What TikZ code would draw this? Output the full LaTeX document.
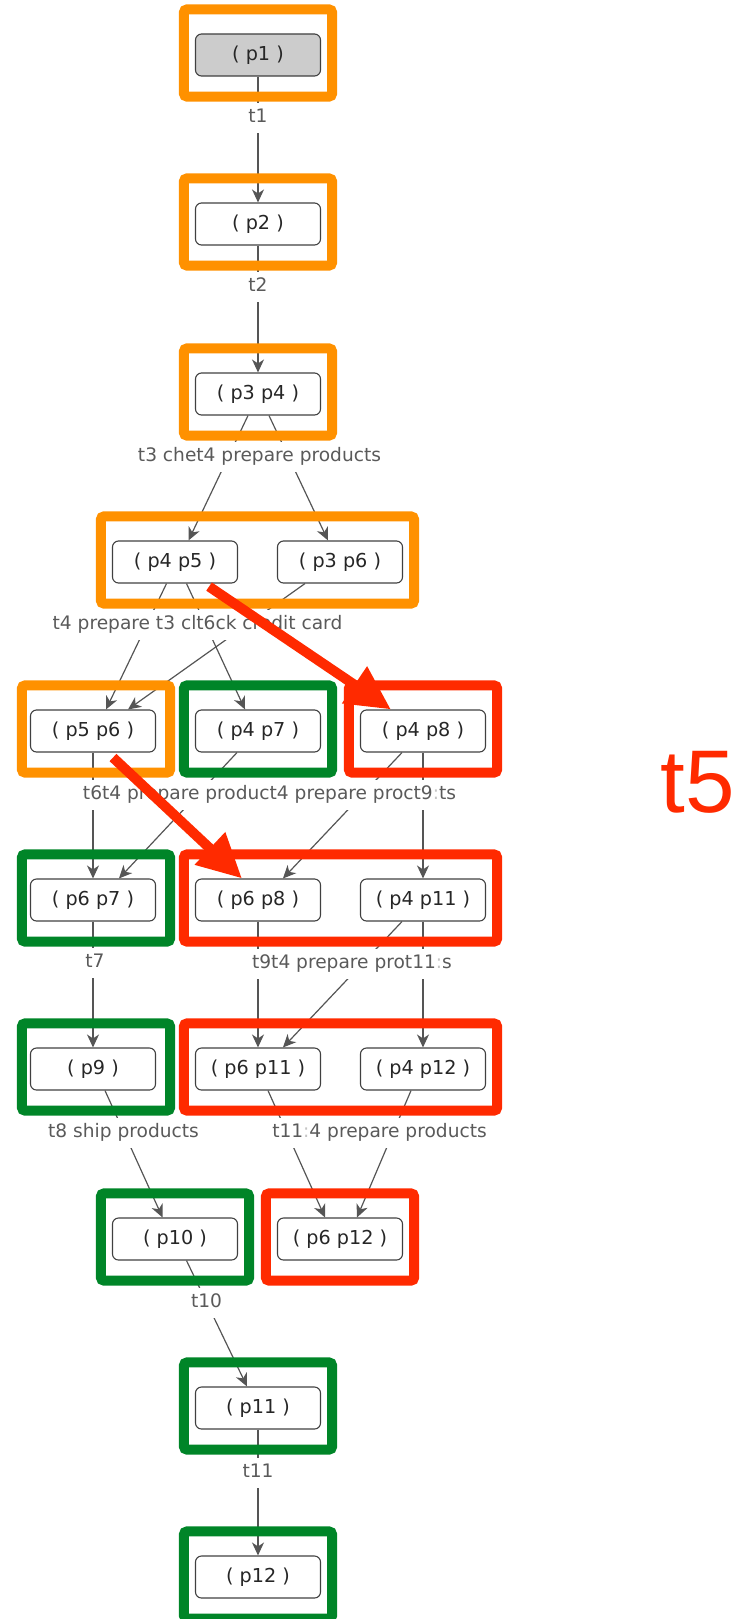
\documentclass[tikz,border=0pt]{standalone}
\usepackage{fontspec}
\setmainfont{DejaVu Sans}
\newfontfamily\bigfont{Liberation Sans}
\usetikzlibrary{arrows.meta,fit}
\definecolor{hlorange}{RGB}{255,145,0}
\definecolor{hlgreen}{RGB}{0,133,40}
\definecolor{hlred}{RGB}{255,42,0}
\definecolor{edgegray}{RGB}{85,85,85}
\definecolor{labelgray}{RGB}{90,90,90}
\newcommand{\faint}[1]{\textcolor{labelgray!35}{#1}}
\tikzset{state/.style={draw=black!75,rounded corners=6,line width=1.1pt,minimum width=125pt,minimum height=42pt,inner sep=0pt,font=\fontsize{19.2}{22}\selectfont,text=black!85}}
\tikzset{arc/.style={draw=edgegray,line width=1.2pt,-{Stealth[length=13,width=12,inset=4]}}}
\tikzset{trans/.style={fill=white,inner xsep=3pt,inner ysep=6pt,text height=14pt,text depth=4.5pt,text=labelgray,font=\fontsize{18.6}{22}\selectfont}}
\tikzset{hl/.style={draw=#1,line width=10pt,rounded corners=3,inner xsep=11pt,inner ysep=22pt,yshift=2pt}}
\tikzset{fire/.style={draw=hlred,line width=10pt,-{Triangle[length=44,width=42]}}}

\begin{document}
\begin{tikzpicture}[x=1pt,y=-1pt]
\useasboundingbox (0,0) rectangle (738,1619);
% markings
\node[state,fill=black!20] (p1) at (258,55) {( p1 )};
\node[state] (p2) at (258,224) {( p2 )};
\node[state] (p34) at (258,394) {( p3 p4 )};
\node[state] (p45) at (175,562) {( p4 p5 )};\node[state] (p36) at (340,562) {( p3 p6 )};
\node[state] (p56) at (93,731) {( p5 p6 )};\node[state] (p47) at (258,731) {( p4 p7 )};\node[state] (p48) at (423,731) {( p4 p8 )};
\node[state] (p67) at (93,900) {( p6 p7 )};\node[state] (p68) at (258,900) {( p6 p8 )};\node[state] (p411) at (423,900) {( p4 p11 )};
\node[state] (p9) at (93,1069) {( p9 )};\node[state] (p611) at (258,1069) {( p6 p11 )};\node[state] (p412) at (423,1069) {( p4 p12 )};
\node[state] (p10) at (175,1239) {( p10 )};\node[state] (p612) at (340,1239) {( p6 p12 )};
\node[state] (p11) at (258,1408) {( p11 )};
\node[state] (p12) at (258,1577) {( p12 )};
% arcs
\draw[arc](p1)--(p2);\draw[arc](p2)--(p34);
\draw[arc]([xshift=-10pt]p34.south)--([xshift=13.5pt]p45.north);\draw[arc]([xshift=11pt]p34.south)--([xshift=-12pt]p36.north);
\draw[arc]([xshift=-8.5pt]p45.south)--([xshift=13pt]p56.north);\draw[arc]([xshift=11.5pt]p45.south)--([xshift=-13pt]p47.north);
\draw[arc]([xshift=-35pt]p36.south)--([xshift=35pt]p56.north);
\draw[arc](p56)--(p67);\draw[arc]([xshift=-21pt]p47.south)--([xshift=26pt]p67.north);
\draw[arc]([xshift=-21pt]p48.south)--([xshift=25pt]p68.north);\draw[arc](p48)--(p411);
\draw[arc](p67)--(p9);\draw[arc](p68)--(p611);
\draw[arc]([xshift=-21pt]p411.south)--([xshift=25pt]p611.north);\draw[arc](p411)--(p412);
\draw[arc]([xshift=12pt]p9.south)--([xshift=-12.5pt]p10.north);
\draw[arc]([xshift=10pt]p611.south)--([xshift=-15pt]p612.north);\draw[arc]([xshift=-12pt]p412.south)--([xshift=17pt]p612.north);
\draw[arc]([xshift=11.5pt]p10.south)--([xshift=-11pt]p11.north);
\draw[arc](p11)--(p12);
% transition labels
\node[trans] (l1) at (258,118) {t1};
\node[trans] (l2) at (258,287) {t2};
\node[trans] (l3) at (259.5,457) {t3 chet4 prepare products};
\node[trans] (l4) at (197.5,625) {t4 prepare t3 clt6ck credit card};
\node[trans] (l5) at (269.5,795) {t6t4 prepare product4 prepare proct9\faint{:}ts};
\node[trans] (l6a) at (95,963) {t7};\node[trans] (l6b) at (352,964) {t9t4 prepare prot11\faint{:}s};
\node[trans] (l7a) at (123.5,1133) {t8 ship products};\node[trans] (l7b) at (379.5,1133) {t11\faint{:}4 prepare products};
\node[trans] (l8) at (206.5,1303) {t10};
\node[trans] (l9) at (258,1473) {t11};
% highlight frames
\node[hl=hlorange,fit=(p1)] (b1) {};\node[hl=hlorange,fit=(p2)] (b2) {};\node[hl=hlorange,fit=(p34)] (b3) {};
\node[hl=hlorange,fit=(p45)(p36)] (b4) {};
\node[hl=hlorange,fit=(p56),xshift=3pt] (b5a) {};\node[hl=hlgreen,fit=(p47)] (b5b) {};\node[hl=hlred,fit=(p48)] (b5c) {};
\node[hl=hlgreen,fit=(p67),xshift=3pt] (b6a) {};\node[hl=hlred,fit=(p68)(p411)] (b6b) {};
\node[hl=hlgreen,fit=(p9),xshift=3pt] (b7a) {};\node[hl=hlred,fit=(p611)(p412)] (b7b) {};
\node[hl=hlgreen,fit=(p10)] (b8a) {};\node[hl=hlred,fit=(p612)] (b8b) {};
\node[hl=hlgreen,fit=(p11)] (b9) {};\node[hl=hlgreen,fit=(p12)] (b10) {};
% t5 firings
\draw[fire]([xshift=-29pt,yshift=-3pt]p45.south east)--([xshift=31pt]p48.north west);
\draw[fire]([xshift=20pt,yshift=-5pt]p56.south)--([xshift=-16pt]p68.north);
\node[text=hlred,font=\bigfont\fontsize{89}{100}\selectfont,anchor=base] (t5) at (698,812) {t5};
\end{tikzpicture}
\end{document}
